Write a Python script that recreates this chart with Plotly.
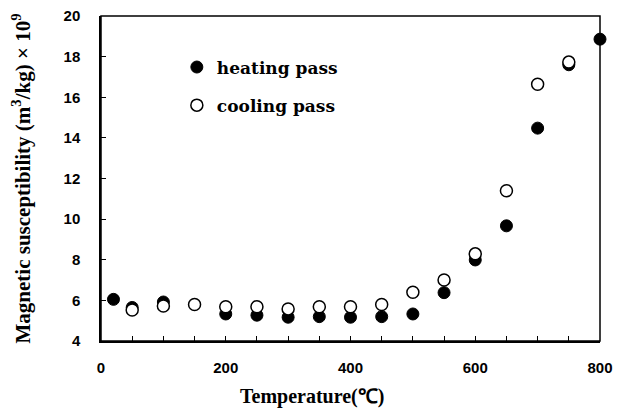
import plotly.graph_objects as go

heat_T = [20, 50, 100, 200, 250, 300, 350, 400, 450, 500, 550, 600, 650, 700, 750, 800]
heat_chi = [6.05, 5.65, 5.92, 5.33, 5.27, 5.17, 5.2, 5.17, 5.2, 5.33, 6.38, 7.99, 9.67, 14.48, 17.6, 18.86]

cool_T = [50, 100, 150, 200, 250, 300, 350, 400, 450, 500, 550, 600, 650, 700, 750]
cool_chi = [5.53, 5.72, 5.8, 5.69, 5.69, 5.58, 5.69, 5.69, 5.8, 6.4, 7.0, 8.29, 11.4, 16.64, 17.73]

x_ticks = [0, 200, 400, 600, 800]
y_ticks = [4, 6, 8, 10, 12, 14, 16, 18, 20]

fig = go.Figure()
fig.add_trace(go.Scatter(
    x=heat_T, y=heat_chi, mode="markers", name="heating pass", legendgroup="h",
    cliponaxis=False,
    marker=dict(symbol="circle", size=12, color="black", line=dict(color="black", width=1)),
))
fig.add_trace(go.Scatter(
    x=cool_T, y=cool_chi, mode="markers", name="cooling pass", legendgroup="c",
    cliponaxis=False,
    marker=dict(symbol="circle", size=12, color="white", line=dict(color="black", width=1.5)),
))

tickfont = dict(family="Liberation Sans", size=15, color="black", weight="bold")
fig.update_layout(
    width=613, height=404,
    margin=dict(l=93, r=21, t=8, b=71),
    paper_bgcolor="white", plot_bgcolor="white",
    showlegend=True,
    legend=dict(
        x=0.152, y=0.897, xanchor="left", yanchor="top",
        font=dict(family="DejaVu Serif", size=17, color="black", weight="bold"),
        bgcolor="rgba(0,0,0,0)", tracegroupgap=13, traceorder="grouped",
        itemwidth=30,
    ),
    xaxis=dict(
        range=[0, 800], tickvals=x_ticks, ticktext=[str(v) for v in x_ticks],
        ticks="inside", ticklen=5, tickwidth=1, tickcolor="black",
        minor=dict(dtick=50, tick0=0, ticks="inside", ticklen=5, tickwidth=1, tickcolor="black"),
        showline=True, linecolor="black", linewidth=1.5,
        showgrid=False, zeroline=False, automargin=False, ticklabeloverflow="allow",
        tickfont=tickfont, ticklabelstandoff=12,
    ),
    yaxis=dict(
        range=[4, 20], tickvals=y_ticks, ticktext=[str(v) for v in y_ticks],
        ticks="inside", ticklen=5, tickwidth=1, tickcolor="black",
        showline=True, linecolor="black", linewidth=1.5,
        showgrid=False, zeroline=False, automargin=False, ticklabeloverflow="allow",
        tickfont=tickfont, ticklabelstandoff=16,
        title=dict(text="Magnetic susceptibility (m<sup>3</sup>/kg) × 10<sup>9</sup>", standoff=30,
                   font=dict(family="Liberation Serif", size=21, color="black", weight="bold")),
    ),
    shapes=[dict(type="rect", xref="paper", yref="paper", x0=0, y0=0, x1=1, y1=1,
                 line=dict(color="black", width=1.5), layer="above")],
    annotations=[dict(
        text="Temperature(℃)", xref="paper", yref="paper", x=0.423, y=-0.17,
        xanchor="center", yanchor="middle", showarrow=False,
        font=dict(family="Liberation Serif", size=20, color="black", weight="bold"),
    )],
)
fig.write_html("out.html")
